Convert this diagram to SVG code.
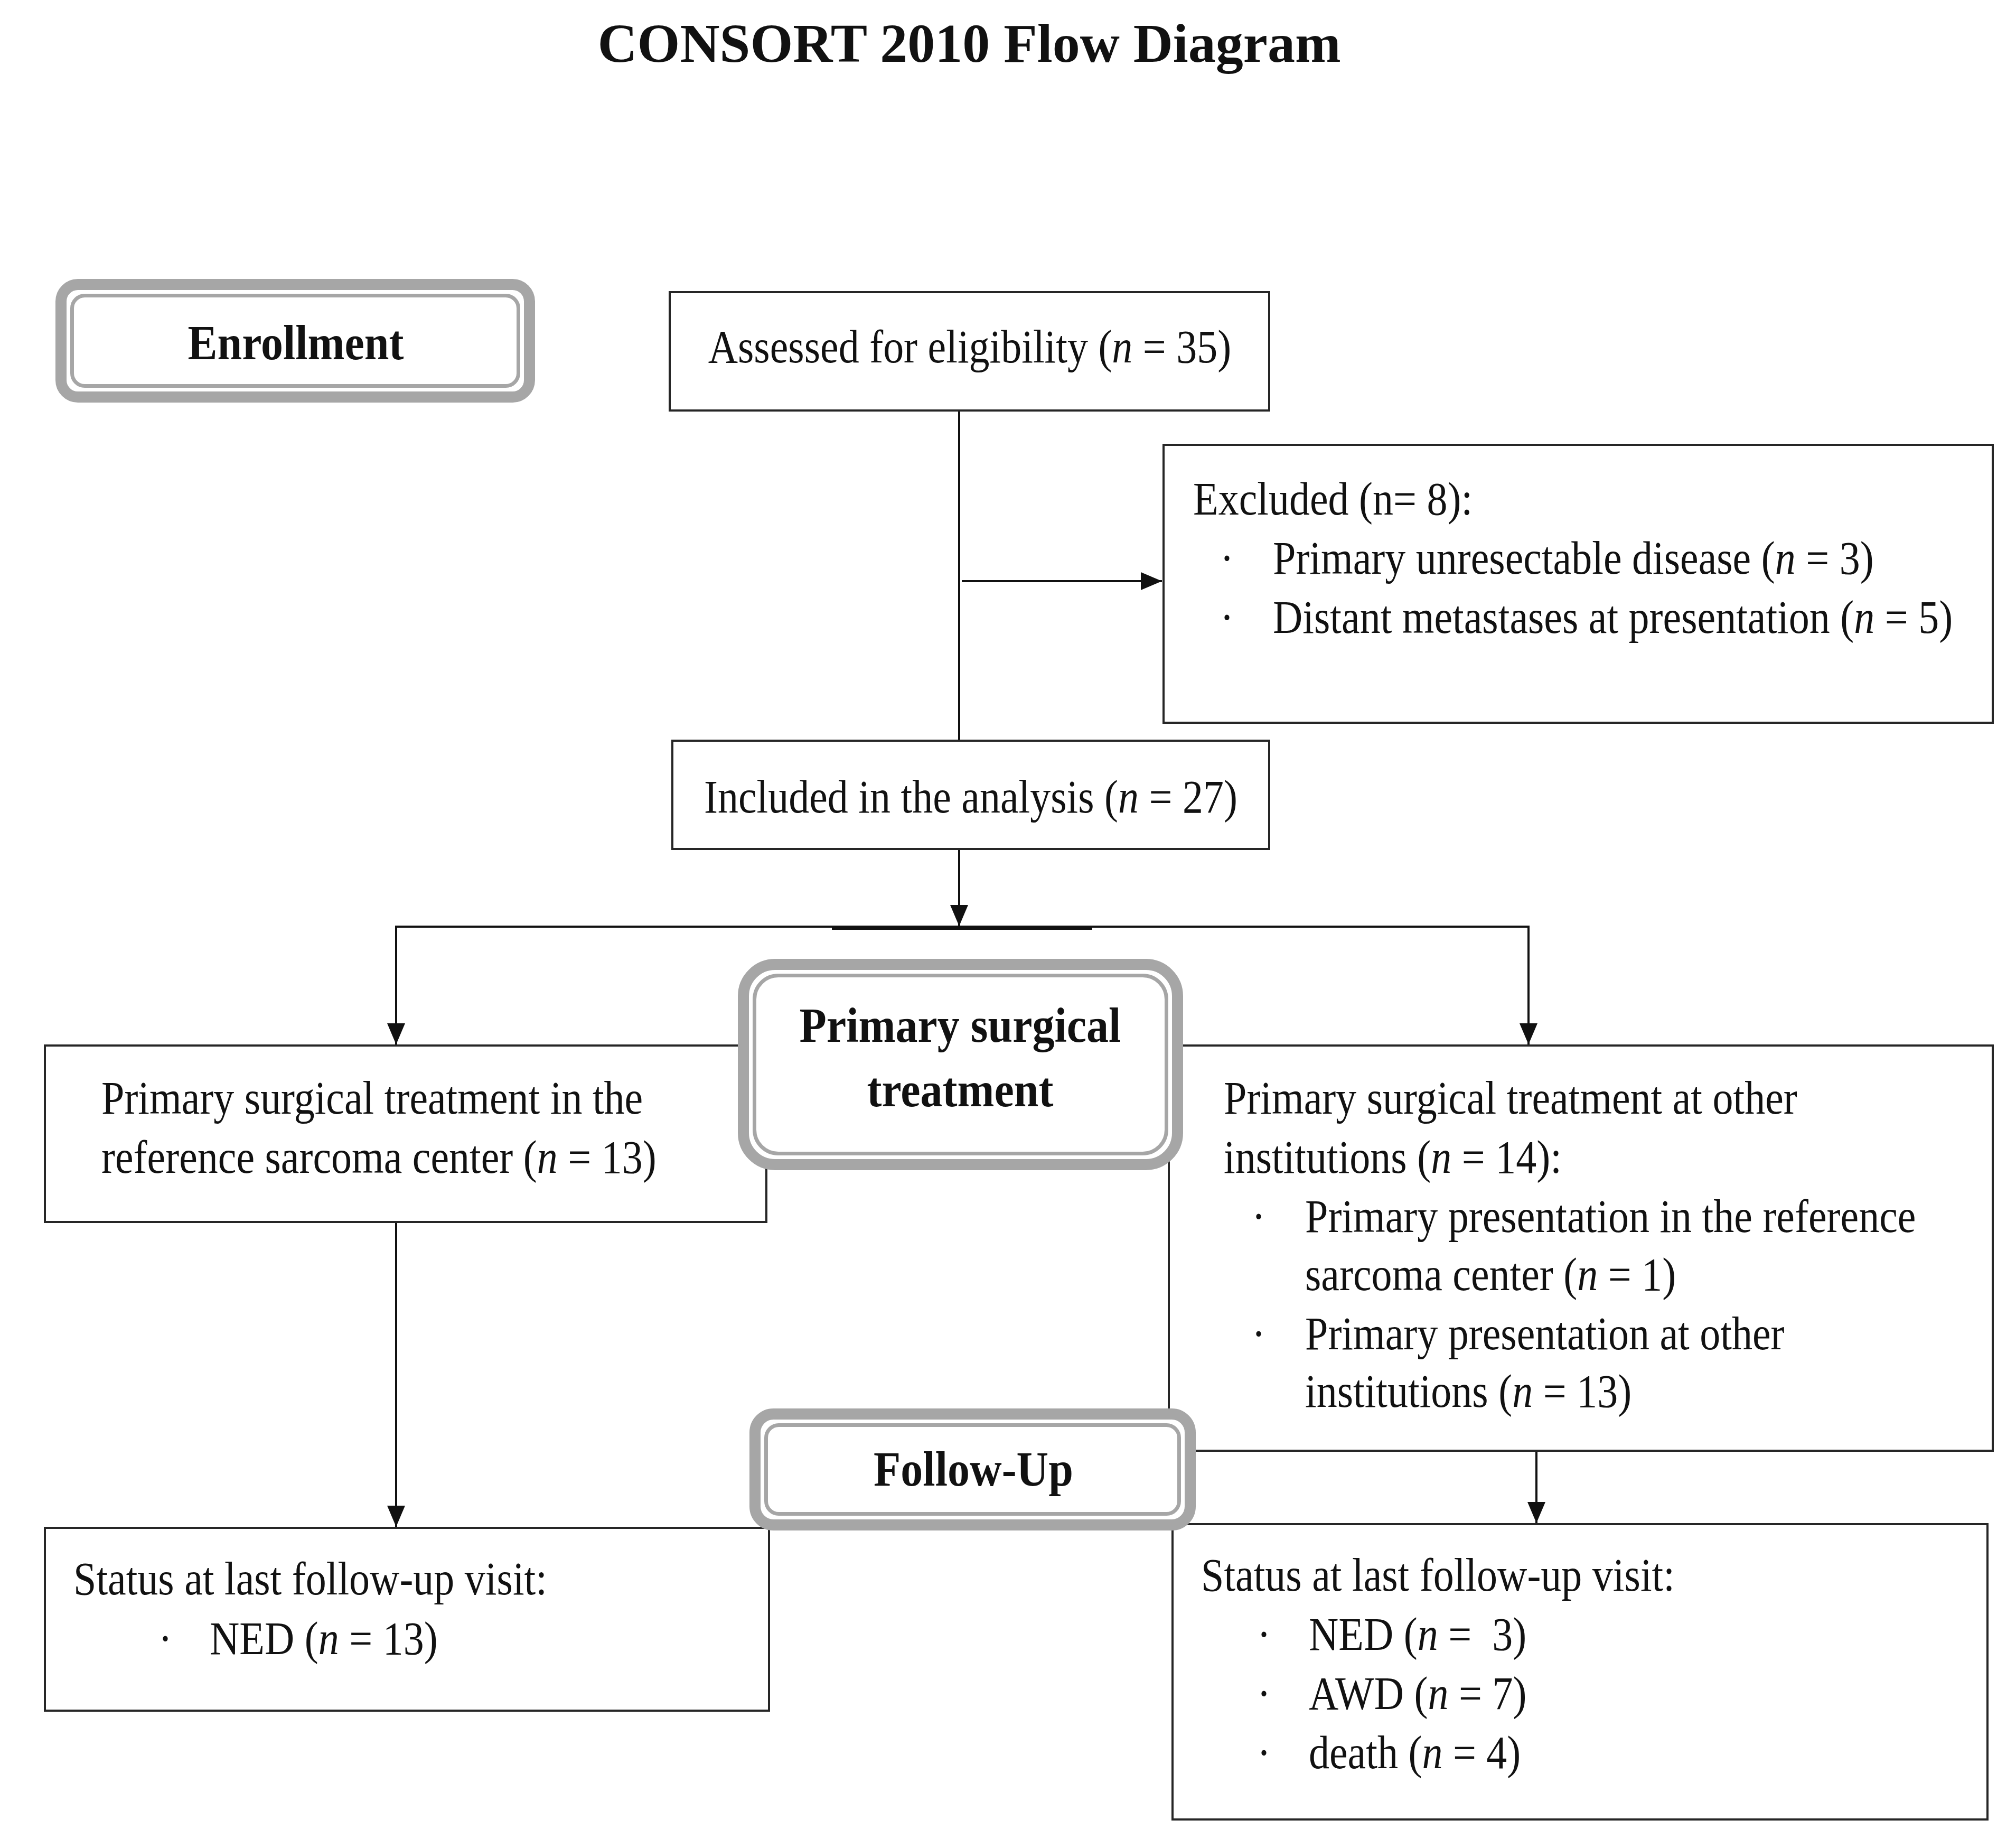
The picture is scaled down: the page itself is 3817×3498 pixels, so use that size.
<svg xmlns="http://www.w3.org/2000/svg" width="3817" height="3498" viewBox="0 0 3817 3498">
<style>
.box{fill:#fff;stroke:#262626;stroke-width:4}
.outer{fill:#fff;stroke:#a6a6a6;stroke-width:21}
.inner{fill:none;stroke:#a6a6a6;stroke-width:7}
.t{font-family:"Liberation Serif","Times New Roman",serif;font-size:78px;fill:#111}
.b{font-family:"Liberation Serif","Times New Roman",serif;font-size:84px;font-weight:bold;fill:#111}
.title{font-family:"Liberation Serif","Times New Roman",serif;font-size:104px;font-weight:bold;fill:#111}
.i{font-style:italic}
.c{text-anchor:middle}
.ln{fill:none;stroke:#111;stroke-width:4}
</style>
<defs>
<marker id="arrw" viewBox="0 0 40 34" refX="40" refY="17" markerWidth="40" markerHeight="34" markerUnits="userSpaceOnUse" orient="auto">
<path d="M0,0 L40,17 L0,34 Z" fill="#111"/>
</marker>
</defs>

<text class="title c" x="1835" y="117">CONSORT 2010 Flow Diagram</text>

<g id="connectors">
<line class="ln" x1="1816" y1="777" x2="1816" y2="1402"/>
<line class="ln" x1="1821" y1="1100" x2="2200" y2="1100" marker-end="url(#arrw)"/>
<line class="ln" x1="1816" y1="1607" x2="1816" y2="1753" marker-end="url(#arrw)"/>
<line class="ln" x1="748" y1="1754" x2="2896" y2="1754"/>
<line x1="1575" y1="1757" x2="2068" y2="1757" stroke="#111" stroke-width="6"/>
<line class="ln" x1="750" y1="1752" x2="750" y2="1977" marker-end="url(#arrw)"/>
<line class="ln" x1="2894" y1="1752" x2="2894" y2="1977" marker-end="url(#arrw)"/>
<line class="ln" x1="750" y1="2313" x2="750" y2="2890" marker-end="url(#arrw)"/>
<line class="ln" x1="2909" y1="2746" x2="2909" y2="2883" marker-end="url(#arrw)"/>
</g>

<g id="assessed">
<rect class="box" x="1268" y="553" width="1135" height="224"/>
<text class="t c" transform="translate(1836 686) scale(1 1.15)">Assessed for eligibility (<tspan class="i">n</tspan> = 35)</text>
</g>

<g id="excluded">
<rect class="box" x="2203" y="842" width="1570" height="526"/>
<text class="t" transform="translate(2259 974) scale(1 1.15)">Excluded (n= 8):</text>
<text class="t" transform="translate(2310 1086) scale(1 1.15)">·</text>
<text class="t" transform="translate(2410 1086) scale(1 1.15)">Primary unresectable disease (<tspan class="i">n</tspan> = 3)</text>
<text class="t" transform="translate(2310 1198) scale(1 1.15)">·</text>
<text class="t" transform="translate(2410 1198) scale(1 1.15)">Distant metastases at presentation (<tspan class="i">n</tspan> = 5)</text>
</g>

<g id="included">
<rect class="box" x="1273" y="1402" width="1130" height="205"/>
<text class="t c" transform="translate(1838 1538) scale(1 1.15)">Included in the analysis (<tspan class="i">n</tspan> = 27)</text>
</g>

<g id="treat-ref">
<rect class="box" x="85" y="1979" width="1366" height="334"/>
<text class="t" transform="translate(192 2108) scale(1 1.15)">Primary surgical treatment in the</text>
<text class="t" transform="translate(192 2220) scale(1 1.15)">reference sarcoma center (<tspan class="i">n</tspan> = 13)</text>
</g>

<g id="treat-other">
<rect class="box" x="2213" y="1979" width="1560" height="767"/>
<text class="t" transform="translate(2317 2108) scale(1 1.15)">Primary surgical treatment at other</text>
<text class="t" transform="translate(2317 2220) scale(1 1.15)">institutions (<tspan class="i">n</tspan> = 14):</text>
<text class="t" transform="translate(2370 2332) scale(1 1.15)">·</text>
<text class="t" transform="translate(2471 2332) scale(1 1.15)">Primary presentation in the reference</text>
<text class="t" transform="translate(2471 2442) scale(1 1.15)">sarcoma center (<tspan class="i">n</tspan> = 1)</text>
<text class="t" transform="translate(2370 2554) scale(1 1.15)">·</text>
<text class="t" transform="translate(2471 2554) scale(1 1.15)">Primary presentation at other</text>
<text class="t" transform="translate(2471 2663) scale(1 1.15)">institutions (<tspan class="i">n</tspan> = 13)</text>
</g>

<g id="status-ref">
<rect class="box" x="85" y="2892" width="1371" height="346"/>
<text class="t" transform="translate(139 3018) scale(1 1.15)">Status at last follow-up visit:</text>
<text class="t" transform="translate(300 3131) scale(1 1.15)">·</text>
<text class="t" transform="translate(397 3131) scale(1 1.15)">NED (<tspan class="i">n</tspan> = 13)</text>
</g>

<g id="status-other">
<rect class="box" x="2220" y="2885" width="1543" height="559"/>
<text class="t" transform="translate(2274 3011) scale(1 1.15)">Status at last follow-up visit:</text>
<text class="t" transform="translate(2380 3123) scale(1 1.15)">·</text>
<text class="t" transform="translate(2478 3123) scale(1 1.15)">NED (<tspan class="i">n</tspan> =&#160; 3)</text>
<text class="t" transform="translate(2380 3235) scale(1 1.15)">·</text>
<text class="t" transform="translate(2478 3235) scale(1 1.15)">AWD (<tspan class="i">n</tspan> = 7)</text>
<text class="t" transform="translate(2380 3347) scale(1 1.15)">·</text>
<text class="t" transform="translate(2478 3347) scale(1 1.15)">death (<tspan class="i">n</tspan> = 4)</text>
</g>

<g id="enrollment">
<rect class="outer" x="115.5" y="538.5" width="887" height="213" rx="32"/>
<rect class="inner" x="136.5" y="559.5" width="845" height="171" rx="24"/>
<text class="b c" transform="translate(560 680) scale(1 1.12)">Enrollment</text>
</g>

<g id="primary-surgical">
<rect class="outer" x="1407.5" y="1825.5" width="822" height="379" rx="60"/>
<rect class="inner" x="1428.5" y="1846.5" width="780" height="337" rx="45"/>
<text class="b c" transform="translate(1818 1972) scale(1 1.12)">Primary surgical</text>
<text class="b c" transform="translate(1818 2094) scale(1 1.12)">treatment</text>
</g>

<g id="follow-up">
<rect class="outer" x="1429.5" y="2676.5" width="824" height="210" rx="35"/>
<rect class="inner" x="1450.5" y="2697.5" width="782" height="168" rx="24"/>
<text class="b c" transform="translate(1843 2812) scale(1 1.12)">Follow-Up</text>
</g>
</svg>
